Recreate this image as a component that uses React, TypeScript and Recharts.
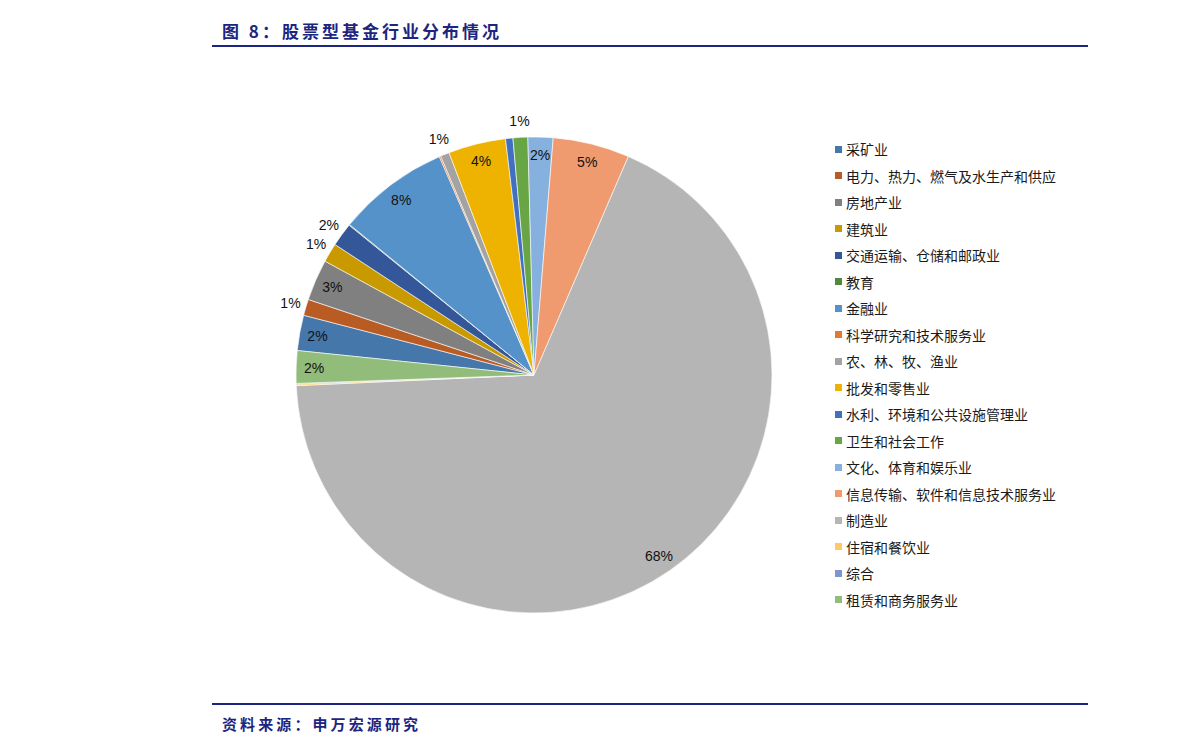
import { Legend, Pie, PieChart, Cell } from "recharts";

// 行业分类（图例顺序）
const industries = [
    "采矿业",
    "电力、热力、燃气及水生产和供应",
    "房地产业",
    "建筑业",
    "交通运输、仓储和邮政业",
    "教育",
    "金融业",
    "科学研究和技术服务业",
    "农、林、牧、渔业",
    "批发和零售业",
    "水利、环境和公共设施管理业",
    "卫生和社会工作",
    "文化、体育和娱乐业",
    "信息传输、软件和信息技术服务业",
    "制造业",
    "住宿和餐饮业",
    "综合",
    "租赁和商务服务业",
];

// 占比（%）
const shares = [2.4, 1.1, 2.8, 1.3, 1.6, 0.05, 7.6, 0.1, 0.6, 3.9, 0.5, 1.0, 1.7, 5.2, 67.8, 0.1, 0.05, 2.2];

const colors = [
    "#4677AA", "#B85C24", "#808080", "#C99A00", "#34579A", "#4F8A3C",
    "#5592C9", "#E5782F", "#A3A3A3", "#EDB300", "#4270C0", "#68A545",
    "#86B0DE", "#EF9A6F", "#B5B5B5", "#FFC964", "#7D96CF", "#92BC79",
];

const data = industries.map((name, i) => ({ name, value: shares[i] }));

const RAD = Math.PI / 180;
const NAVY = "#1C2580";

function renderLabel(props: any) {
    const { cx, cy, midAngle, outerRadius, percent } = props;
    if (percent < 0.0055) return null;
    // small slices get their label outside, as in the original
    const r = percent < 0.017 ? outerRadius + 16 : outerRadius - 18;
    const x = cx + r * Math.cos(-midAngle * RAD);
    const y = cy + r * Math.sin(-midAngle * RAD);
    return (
        <text
            x={x}
            y={y}
            fill="#111"
            fontSize={14}
            fontFamily="'Liberation Sans', Arial, sans-serif"
            textAnchor="middle"
            dominantBaseline="central"
        >
            {`${Math.round(percent * 100)}%`}
        </text>
    );
}

function LegendList() {
    return (
        <div style={{ fontFamily: "'Noto Sans CJK SC', sans-serif", fontSize: 14, color: "#1a1a1a" }}>
            {industries.map((name, i) => (
                <div key={name} style={{ height: 26.5, display: "flex", alignItems: "center" }}>
                    <span
                        style={{
                            display: "inline-block",
                            width: 7,
                            height: 7,
                            background: colors[i],
                            marginRight: 4,
                        }}
                    />
                    <span>{name}</span>
                </div>
            ))}
        </div>
    );
}

export default function App() {
    return (
        <div style={{ position: "absolute", left: 0, top: 0, width: 1191, height: 754, background: "#fff" }}>
            <div
                style={{
                    position: "absolute",
                    left: 222,
                    top: 19,
                    fontFamily: "'Noto Sans CJK SC', sans-serif",
                    fontWeight: 700,
                    fontSize: 17,
                    letterSpacing: 3,
                    color: NAVY,
                    lineHeight: "24px",
                }}
            >
                图 8：股票型基金行业分布情况
            </div>
            <div style={{ position: "absolute", left: 212, top: 45, width: 876, height: 2, background: NAVY }} />

            <div style={{ position: "absolute", left: 0, top: 0 }}>
                <PieChart width={1191} height={754} margin={{ top: 0, right: 0, bottom: 0, left: 0 }}>
                    <Pie
                        data={data}
                        dataKey="value"
                        nameKey="name"
                        cx={534}
                        cy={375}
                        outerRadius={238}
                        startAngle={174.1}
                        endAngle={-185.9}
                        stroke="#fff"
                        strokeWidth={0.6}
                        label={renderLabel}
                        labelLine={false}
                        isAnimationActive={false}
                    >
                        {data.map((d, i) => (
                            <Cell key={d.name} fill={colors[i]} />
                        ))}
                    </Pie>
                    <Legend
                        layout="vertical"
                        align="right"
                        verticalAlign="top"
                        content={() => <LegendList />}
                        wrapperStyle={{ left: 835, top: 136, width: 260, right: "auto" }}
                    />
                </PieChart>
            </div>

            <div style={{ position: "absolute", left: 212, top: 703, width: 876, height: 2, background: NAVY }} />
            <div
                style={{
                    position: "absolute",
                    left: 222,
                    top: 713,
                    fontFamily: "'Noto Sans CJK SC', sans-serif",
                    fontWeight: 700,
                    fontSize: 15,
                    letterSpacing: 3.1,
                    color: NAVY,
                    lineHeight: "22px",
                }}
            >
                资料来源：申万宏源研究
            </div>
        </div>
    );
}
